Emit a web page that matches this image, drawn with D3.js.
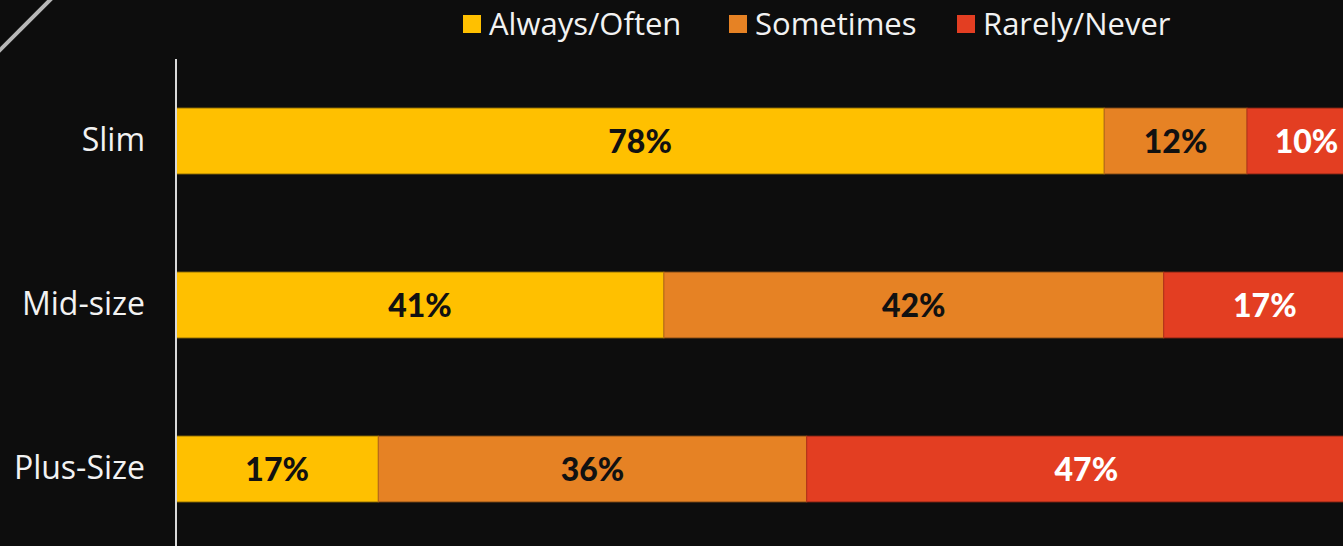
<!DOCTYPE html>
<html>
<head>
<meta charset="utf-8">
<script src="https://cdn.jsdelivr.net/npm/d3@7"></script>
<style>
  html, body { margin: 0; padding: 0; background: #0d0d0d; }
  svg { display: block; }
</style>
</head>
<body>
<script>
// Body-size groups and how often respondents report the outcome
const categories = ["Slim", "Mid-size", "Plus-Size"];
const seriesNames = ["Always/Often", "Sometimes", "Rarely/Never"];
const alwaysOften = [78, 41, 17];
const sometimes = [12, 42, 36];
const rarelyNever = [10, 17, 47];
const seriesColors = ["#ffc000", "#e68224", "#e33e22"];
const labelColors = ["#111111", "#111111", "#ffffff"];

const W = 1343, H = 546;
const svg = d3.select("body").append("svg").attr("width", W).attr("height", H);
svg.append("rect").attr("width", W).attr("height", H).attr("fill", "#0d0d0d");

// Decorative corner stroke
svg.append("line")
  .attr("x1", -2).attr("y1", 52).attr("x2", 52).attr("y2", -2)
  .attr("stroke", "#b8b8b8").attr("stroke-width", 4);

const rows = categories.map((c, i) => ({
  category: c,
  "Always/Often": alwaysOften[i],
  "Sometimes": sometimes[i],
  "Rarely/Never": rarelyNever[i]
}));
const stacked = d3.stack().keys(seriesNames)(rows);

const x = d3.scaleLinear().domain([0, 100]).range([176, 1366]);
const y = d3.scaleBand().domain(categories).range([59, 551]).paddingInner(0.6).paddingOuter(0.3);
const color = d3.scaleOrdinal().domain(seriesNames).range(seriesColors);
const textColor = d3.scaleOrdinal().domain(seriesNames).range(labelColors);

// Bars
const layers = svg.append("g").selectAll("g").data(stacked).join("g")
  .attr("fill", d => color(d.key))
  .attr("stroke", d => d3.color(color(d.key)).darker(0.7))
  .attr("stroke-width", 1);

layers.selectAll("rect").data(d => d.map(v => ({ key: d.key, v }))).join("rect")
  .attr("x", d => x(d.v[0]))
  .attr("y", d => y(d.v.data.category))
  .attr("width", d => x(d.v[1]) - x(d.v[0]))
  .attr("height", y.bandwidth());

// Value labels
svg.append("g").selectAll("g").data(stacked).join("g")
  .selectAll("text").data(d => d.map(v => ({ key: d.key, v }))).join("text")
  .attr("x", d => (x(d.v[0]) + x(d.v[1])) / 2)
  .attr("y", d => y(d.v.data.category) + y.bandwidth() / 2)
  .attr("dy", "0.36em")
  .attr("text-anchor", "middle")
  .attr("font-family", "Lato, 'Open Sans', sans-serif")
  .attr("font-weight", 900)
  .attr("font-size", 32)
  .attr("fill", d => textColor(d.key))
  .text(d => (d.v[1] - d.v[0]) + "%");

// Category axis
const yAxis = svg.append("g").attr("transform", "translate(176,0)")
  .call(d3.axisLeft(y).tickSize(0).tickPadding(31));
yAxis.select(".domain").remove();
yAxis.selectAll("text")
  .attr("font-family", "'Open Sans', sans-serif")
  .attr("font-size", 32)
  .attr("fill", "#f2f2f2");
svg.append("line")
  .attr("x1", 176).attr("x2", 176).attr("y1", 59).attr("y2", H)
  .attr("stroke", "#d9d9d9").attr("stroke-width", 2);

// Legend
const legendX = [463, 729, 957];
const legend = svg.append("g").selectAll("g").data(seriesNames).join("g")
  .attr("transform", (d, i) => `translate(${legendX[i]},15)`);
legend.append("rect").attr("width", 18).attr("height", 18).attr("fill", d => color(d));
legend.append("text")
  .attr("x", 26).attr("y", 9).attr("dy", "0.36em")
  .attr("font-family", "'Open Sans', sans-serif")
  .attr("font-size", 31)
  .attr("fill", "#f2f2f2")
  .text(d => d);
</script>
</body>
</html>
